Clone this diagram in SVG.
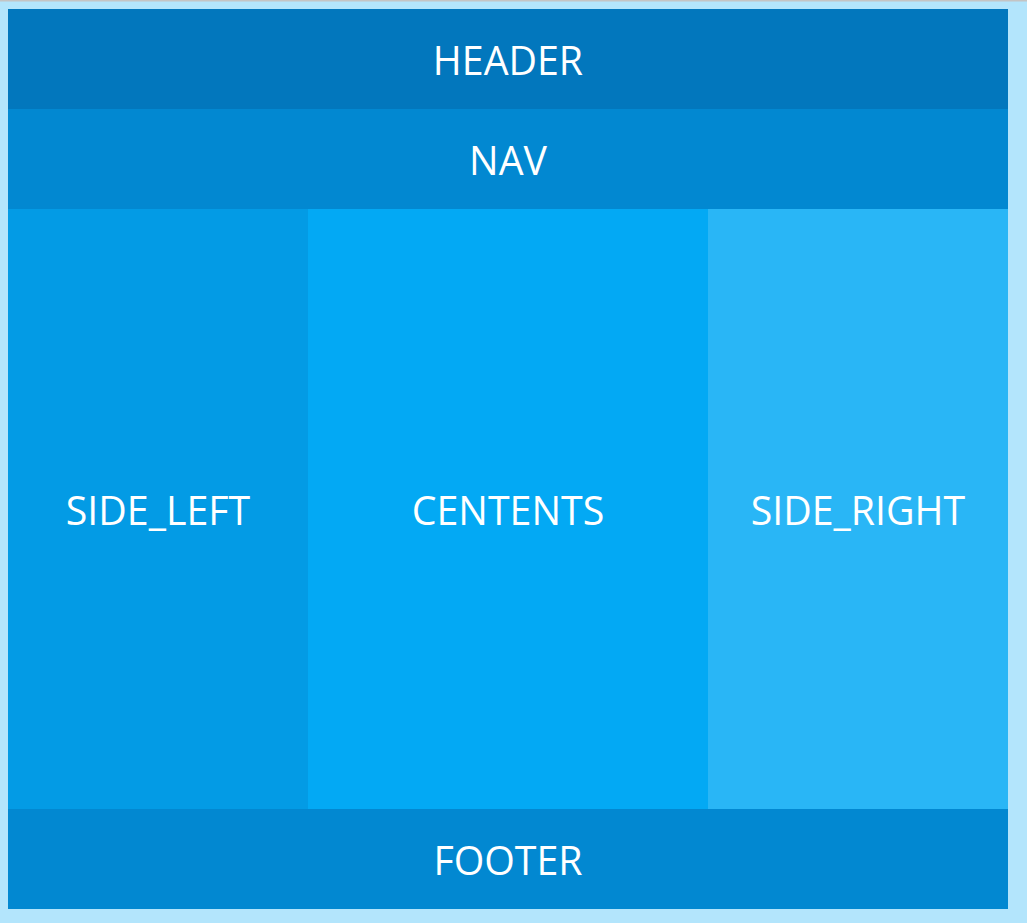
<svg xmlns="http://www.w3.org/2000/svg" width="1027" height="923" viewBox="0 0 1027 923">
<style>
.t{font-family:"Open Sans","Noto Sans",sans-serif;font-size:39.3px;fill:#ffffff;text-anchor:middle;dominant-baseline:central}
</style>
<rect x="0" y="0" width="1027" height="923" fill="#b3e5fc"/>
<rect x="0" y="0" width="1027" height="1.5" fill="#c4c4c4"/>
<g id="header"><rect x="8" y="9" width="1000" height="100" fill="#0277bd"/><text class="t" x="508" y="60">HEADER</text></g>
<g id="nav"><rect x="8" y="109" width="1000" height="100" fill="#0288d1"/><text class="t" x="508" y="160">NAV</text></g>
<g id="side_left"><rect x="8" y="209" width="300" height="600" fill="#039be5"/><text class="t" x="158" y="510">SIDE_LEFT</text></g>
<g id="centents"><rect x="308" y="209" width="400" height="600" fill="#03a9f4"/><text class="t" x="508" y="510">CENTENTS</text></g>
<g id="side_right"><rect x="708" y="209" width="300" height="600" fill="#29b6f6"/><text class="t" x="858" y="510">SIDE_RIGHT</text></g>
<g id="footer"><rect x="8" y="809" width="1000" height="100" fill="#0288d1"/><text class="t" x="508" y="860">FOOTER</text></g>
<g id="connectors"/>
</svg>
